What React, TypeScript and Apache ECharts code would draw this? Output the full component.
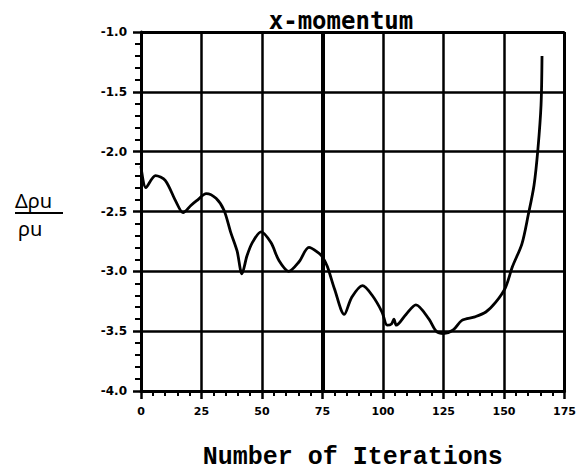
import React, { useEffect, useRef } from "react";
import * as echarts from "echarts";

const iterations = [0, 2, 6, 10, 14.5, 17.4, 20.6, 23, 27, 31, 34.3, 37, 39.7, 41.7, 43.8, 46, 49.6, 53.7, 57, 61, 65.3, 69.4, 73.6, 75, 77, 80, 84, 87, 91.5, 95.5, 99.6, 101.7, 103.5, 104.5, 105.5, 109.5, 113.6, 119, 122, 125, 129, 132.6, 138, 142.5, 146.5, 150.5, 153.5, 157.4, 160, 162.4, 164, 165.3, 165.7];
const values = [-2.12, -2.3, -2.2, -2.24, -2.42, -2.51, -2.45, -2.41, -2.35, -2.39, -2.49, -2.67, -2.83, -3.02, -2.87, -2.76, -2.67, -2.76, -2.91, -3.0, -2.92, -2.8, -2.85, -2.88, -2.96, -3.15, -3.36, -3.22, -3.12, -3.2, -3.34, -3.45, -3.44, -3.4, -3.45, -3.36, -3.28, -3.4, -3.5, -3.52, -3.49, -3.41, -3.38, -3.34, -3.26, -3.14, -2.96, -2.77, -2.53, -2.28, -1.98, -1.61, -1.2];

const xTicks = [0, 25, 50, 75, 100, 125, 150, 175];
const yTicks = [-4.0, -3.5, -3.0, -2.5, -2.0, -1.5, -1.0];

const titleText = "x-momentum";
const xName = "Number of Iterations";
const yNameTop = "Δρu";
const yNameBottom = "ρu";

export default function App() {
  const ref = useRef<HTMLDivElement>(null);
  useEffect(() => {
    if (!ref.current) return;
    const chart = echarts.init(ref.current, null, { renderer: "svg" });
    const data = iterations.map((x, i) => [x, values[i]]);
    chart.setOption({
      animation: false,
      backgroundColor: "#ffffff",
      title: {
        text: titleText,
        left: 336,
        top: 4,
        textAlign: "center",
        textStyle: { fontFamily: "DejaVu Sans Mono", fontWeight: "bold", fontSize: 24, color: "#000" },
      },
      grid: { left: 141, right: 13, top: 32, bottom: 74 },
      xAxis: {
        type: "value",
        min: xTicks[0],
        max: xTicks[xTicks.length - 1],
        interval: 25,
        name: xName,
        nameLocation: "middle",
        nameGap: 54,
        nameTextStyle: { fontFamily: "Liberation Mono", fontWeight: "bold", fontSize: 25, color: "#000" },
        axisLine: { show: true, lineStyle: { color: "#000", width: 3 } },
        axisTick: { show: true, length: 8, lineStyle: { color: "#000", width: 2.5 } },
        minorTick: { show: true, splitNumber: 5, length: 5, lineStyle: { color: "#000", width: 2 } },
        axisLabel: { fontFamily: "DejaVu Sans", fontWeight: "bold", fontSize: 11, color: "#000", margin: 15 },
        splitLine: { show: true, lineStyle: { color: "#000", width: 2.5 } },
      },
      yAxis: {
        type: "value",
        min: yTicks[0],
        max: yTicks[yTicks.length - 1],
        interval: 0.5,
        axisLine: { show: true, onZero: false, lineStyle: { color: "#000", width: 3 } },
        axisTick: { show: true, length: 8, lineStyle: { color: "#000", width: 2.5 } },
        minorTick: { show: true, splitNumber: 5, length: 6, lineStyle: { color: "#000", width: 2 } },
        axisLabel: {
          fontFamily: "DejaVu Sans",
          fontWeight: "bold",
          fontSize: 12,
          color: "#000",
          margin: 14,
          formatter: (v: number) => v.toFixed(1),
        },
        splitLine: { show: true, lineStyle: { color: "#000", width: 2.5 } },
      },
      graphic: [
        { type: "text", left: 15, top: 190, style: { text: yNameTop, fontFamily: "Noto Sans", fontSize: 20, lineHeight: 20, fill: "#000" } },
        { type: "line", shape: { x1: 15, y1: 213, x2: 63, y2: 213 }, style: { stroke: "#000", lineWidth: 2 } },
        { type: "text", left: 18, top: 218, style: { text: yNameBottom, fontFamily: "Noto Sans", fontSize: 20, lineHeight: 20, fill: "#000" } },
      ],
      series: [
        {
          type: "line",
          data,
          smooth: 0.3,
          showSymbol: false,
          lineStyle: { color: "#000", width: 2.8 },
          markLine: {
            silent: true,
            symbol: "none",
            label: { show: false },
            lineStyle: { color: "#000", width: 4, type: "solid" },
            data: [{ xAxis: 75 }],
          },
        },
        {
          type: "line",
          data: [],
          markLine: {
            silent: true,
            symbol: "none",
            label: { show: false },
            lineStyle: { color: "#000", width: 3, type: "solid" },
            data: [{ yAxis: -1.0 }, { xAxis: 175 }],
          },
        },
      ],
    });
    return () => chart.dispose();
  }, []);
  return <div ref={ref} style={{ width: 579, height: 475, position: "absolute", left: 0, top: 0 }} />;
}
